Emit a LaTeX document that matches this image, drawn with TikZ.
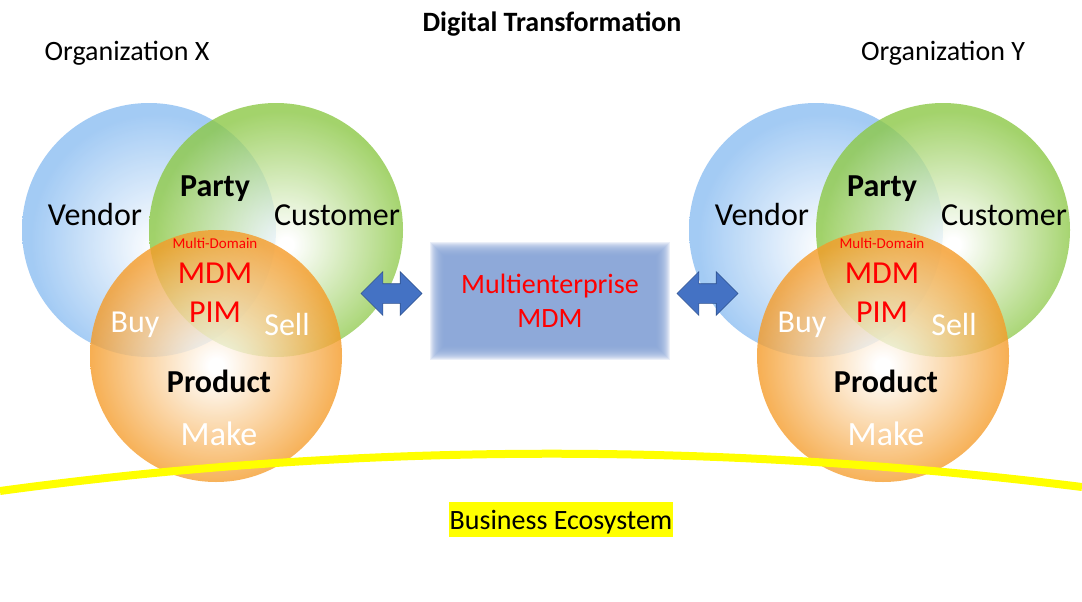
\documentclass[tikz,border=0pt]{standalone}
\usepackage{fontspec}
\setmainfont{Carlito}
\usetikzlibrary{shapes.arrows,positioning}

\definecolor{vendorblue}{RGB}{140,190,242}
\definecolor{partygreen}{RGB}{140,200,70}
\definecolor{productorange}{RGB}{245,155,40}
\definecolor{boxblue}{RGB}{138,166,217}
\definecolor{arrowblue}{RGB}{68,114,196}
\definecolor{arrowedge}{RGB}{47,82,143}
\definecolor{ecoyellow}{RGB}{255,255,0}

\pgfdeclareradialshading{vendorshade}{\pgfpoint{3bp}{-4bp}}{color(0bp)=(white); color(1.5bp)=(white); color(25bp)=(vendorblue); color(50bp)=(vendorblue)}
\pgfdeclareradialshading{customershade}{\pgfpoint{2bp}{-3bp}}{color(0bp)=(white); color(1.5bp)=(white); color(25bp)=(partygreen); color(50bp)=(partygreen)}
\pgfdeclareradialshading{productshade}{\pgfpoint{0bp}{-2bp}}{color(0bp)=(white); color(1.5bp)=(white); color(25bp)=(productorange); color(50bp)=(productorange)}

\begin{document}
\begin{tikzpicture}
    [
      x=1pt, y=-1pt,
      venntext/.style = {font=\fontsize{32}{38}\selectfont, anchor=base, inner sep=0pt},
      vennbold/.style = {venntext, font=\fontsize{32}{38}\selectfont\bfseries},
      venninner/.style = {venntext, text=white},
      mdmtext/.style = {venntext, text=red},
      titletext/.style = {font=\fontsize{28}{34}\selectfont, anchor=base, inner sep=0pt},
      blockarrow/.style = {double arrow, fill=arrowblue, draw=arrowedge, line width=0.6pt,
        minimum height=61pt, minimum width=43pt, inner sep=0pt, inner ysep=9.5pt,
        double arrow head extend=12pt},
    ]

    \useasboundingbox (0,0) rectangle (1082,602);
    \fill[white] (0,0) rectangle (1082,602);

    % titles
    \node[titletext, font=\fontsize{28}{34}\selectfont\bfseries] (title) at (552,32) {Digital Transformation};
    \node[titletext] (orgX) at (127,60) {Organization X};
    \node[titletext] (orgY) at (943,60) {Organization Y};

    % the two Venn diagrams
    \foreach \org/\dx in {X/0,Y/667} {
      \begin{scope}[xshift=\dx pt]
        \shade[shading=vendorshade, fill opacity=.8] (149,230) circle (127);
        \shade[shading=customershade, fill opacity=.8] (276,230) circle (127);
        \shade[shading=productshade, fill opacity=.8] (216,356) circle (126);

        \node[venntext] (vendor\org) at (95,225) {Vendor};
        \node[vennbold] (party\org) at (215,196) {Party};
        \node[venntext] (customer\org) at (337,225) {Customer};
        \node[mdmtext, font=\fontsize{15}{18}\selectfont] (multi\org) at (215,248) {Multi-Domain};
        \node[mdmtext] (mdm\org) at (215,283) {MDM};
        \node[mdmtext] (pim\org) at (215,322) {PIM};
        \node[venninner] (buy\org) at (135,332) {Buy};
        \node[venninner] (sell\org) at (287,335) {Sell};
        \node[vennbold] (product\org) at (219,392) {Product};
        \node[venninner, font=\fontsize{34}{40}\selectfont] (make\org) at (219,445) {Make};
      \end{scope}
    }

    % blurred box in the middle
    \foreach \k in {-7,...,7}
      \fill[boxblue, fill opacity=.17] (437-\k,249-\k) rectangle (663+\k,353+\k);
    \node[minimum width=226pt, minimum height=104pt, inner sep=0pt,
      text=red, align=center, font=\fontsize{28}{34}\selectfont] (mdmbox) at (550,301)
      {Multienterprise\\MDM};

    \node[blockarrow] (arrowX) at (391.5,293.5) {};
    \node[blockarrow] (arrowY) at (707.5,293.5) {};

    % ecosystem line
    \coordinate (ecoL) at (0,491);
    \coordinate (ecoR) at (1082,487);
    \draw[ecoyellow, line width=8pt] (ecoL) .. controls (360,442) and (720,442) .. (ecoR);

    \node[fill=ecoyellow, font=\fontsize{28}{34}\selectfont, inner xsep=1pt, inner ysep=3.5pt,
      text height=24pt, text depth=4pt] (eco) at (561,519.5) {Business Ecosystem};
\end{tikzpicture}
\end{document}
